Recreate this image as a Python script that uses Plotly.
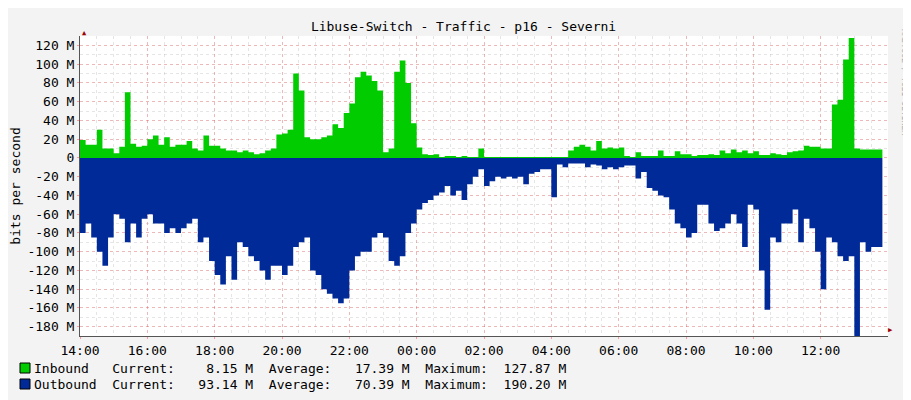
import plotly.graph_objects as go
import pandas as pd

inbound = [19,14,14,30,10,10,5,12,70,15,12,13,20,24,14,22,12,14,14,18,10,8,24,13,
           13,10,8,8,6,8,6,4,5,8,10,25,26,30,90,72,22,20,20,22,24,36,32,48,
           58,86,92,88,82,72,6,10,92,104,80,37,11,4,3,4,1,2,2,1,2,1,1,10,1,
           1,1,1,1,1,1,1,1,1,1,1,1,1,1,
           8,12,14,12,8,18,10,11,10,11,2,1,6,2,2,2,8,2,2,7,
           4,4,2,3,3,4,3,8,5,9,6,8,5,7,3,3,5,4,3,6,
           7,8,13,12,12,10,10,57,62,105,127.87,10,9,9,9,9,8.15]
outbound = [80,70,85,100,115,85,60,65,90,70,85,65,60,70,70,80,75,80,75,70,65,90,85,110,
            125,135,105,130,90,95,105,110,120,130,115,115,125,115,95,90,85,120,
            125,140,145,150,155,150,120,105,100,100,85,80,85,110,115,105,80,70,
            55,48,45,40,37,30,40,35,45,28,20,12,30,
            25,20,22,20,22,20,28,17,15,12,12,42,7,10,6,6,6,10,7,8,12,10,12,10,8,8,
            22,15,32,35,40,42,55,70,75,85,80,50,50,70,78,75,70,60,70,95,50,55,
            120,162,85,90,70,70,55,90,65,75,100,140,85,90,105,110,105,190.2,
            90,100,95,95,93.14]
tick_labels = ["14:00","16:00","18:00","20:00","22:00","00:00","02:00","04:00",
               "06:00","08:00","10:00","12:00"]
y_ticks = list(range(-180, 121, 20))

n = min(len(inbound), len(outbound))
times = pd.date_range("2024-01-01 14:00", periods=n, freq="10min")
out_neg = [-v for v in outbound[:n]]

fig = go.Figure()
fig.add_trace(go.Scatter(x=times, y=inbound[:n], mode="lines", line=dict(width=0, shape="hv"),
                         fill="tozeroy", fillcolor="#00CC00", hoverinfo="skip"))
fig.add_trace(go.Scatter(x=times, y=out_neg, mode="lines", line=dict(width=0, shape="hv"),
                         fill="tozeroy", fillcolor="#002A97", hoverinfo="skip"))

mono = "DejaVu Sans Mono"
fs = 13
L, R = 72, 31
W = 911 - L - R
tickvals_x = pd.date_range("2024-01-01 14:00", periods=12, freq="2h")
fig.update_layout(
    width=911, height=400, showlegend=False,
    paper_bgcolor="#F3F3F3", plot_bgcolor="white",
    margin=dict(l=L, r=R, t=28, b=72, autoexpand=False),
    font=dict(family=mono, size=fs, color="#000"),
    xaxis=dict(range=[pd.Timestamp("2024-01-01 14:00"), pd.Timestamp("2024-01-02 14:00")],
               tickvals=tickvals_x, ticktext=tick_labels, showgrid=True, automargin=False,
               gridcolor="rgba(255,80,80,0.3)", griddash="dot", gridwidth=1,
               minor=dict(dtick=30*60*1000, showgrid=True, gridcolor="rgba(150,150,150,0.25)", griddash="dot"),
               showline=True, linecolor="#555", ticks="outside", ticklen=2, tickcolor="#f99",
               layer="above traces", zeroline=False, tickfont=dict(family=mono, size=fs)),
    yaxis=dict(range=[-190, 130], tickvals=y_ticks, ticktext=[f"{v} M" if v != 0 else "0" for v in y_ticks],
               showgrid=True, gridcolor="rgba(255,80,80,0.3)", griddash="dot", automargin=False,
               minor=dict(dtick=10, showgrid=True, gridcolor="rgba(150,150,150,0.25)", griddash="dot"),
               showline=True, linecolor="#555", ticks="outside", ticklen=2, tickcolor="#f99",
               layer="above traces", zeroline=False,
               title=dict(text="bits per second", font=dict(family=mono, size=fs), standoff=8),
               tickfont=dict(family=mono, size=fs)),
    title=dict(text="Libuse-Switch - Traffic - p16 - Severni", x=0.5, xanchor="center", y=0.965,
               font=dict(family=mono, size=fs)),
)

fig.add_annotation(xref="paper", yref="paper", x=0, y=1.0, text="▲", showarrow=False,
                   font=dict(size=7, color="#A00000"), yanchor="bottom", yshift=-3)
fig.add_annotation(xref="paper", yref="paper", x=1.0, y=0, text="▶", showarrow=False,
                   font=dict(size=7, color="#A00000"), xanchor="left", xshift=-2)
fig.add_annotation(xref="paper", yref="paper", x=1.029, y=1.03, text="RRDTOOL / TOBI OETIKER",
                   textangle=90, showarrow=False, yanchor="top",
                   font=dict(family=mono, size=8, color="#AAAAAA"))

legend_rows = [
    ("#00CC00", "Inbound   Current:    8.15 M  Average:   17.39 M  Maximum:  127.87 M", 360),
    ("#002A97", "Outbound  Current:   93.14 M  Average:   70.39 M  Maximum:  190.20 M", 376),
]
top, h = 28, 300
for color, text, py in legend_rows:
    yp = (top + h - py) / h
    fig.add_shape(type="rect", xref="paper", yref="paper",
                  x0=(12 - L) / W, x1=(22 - L) / W,
                  y0=(top + h - py - 5) / h, y1=(top + h - py + 5) / h,
                  fillcolor=color, line=dict(color="#000", width=1))
    fig.add_annotation(xref="paper", yref="paper", x=(24 - L) / W, y=yp, text=text.replace(" ", "&nbsp;"),
                       showarrow=False, xanchor="left", yanchor="middle",
                       font=dict(family=mono, size=fs, color="#000"))

fig.write_html("out.html")
